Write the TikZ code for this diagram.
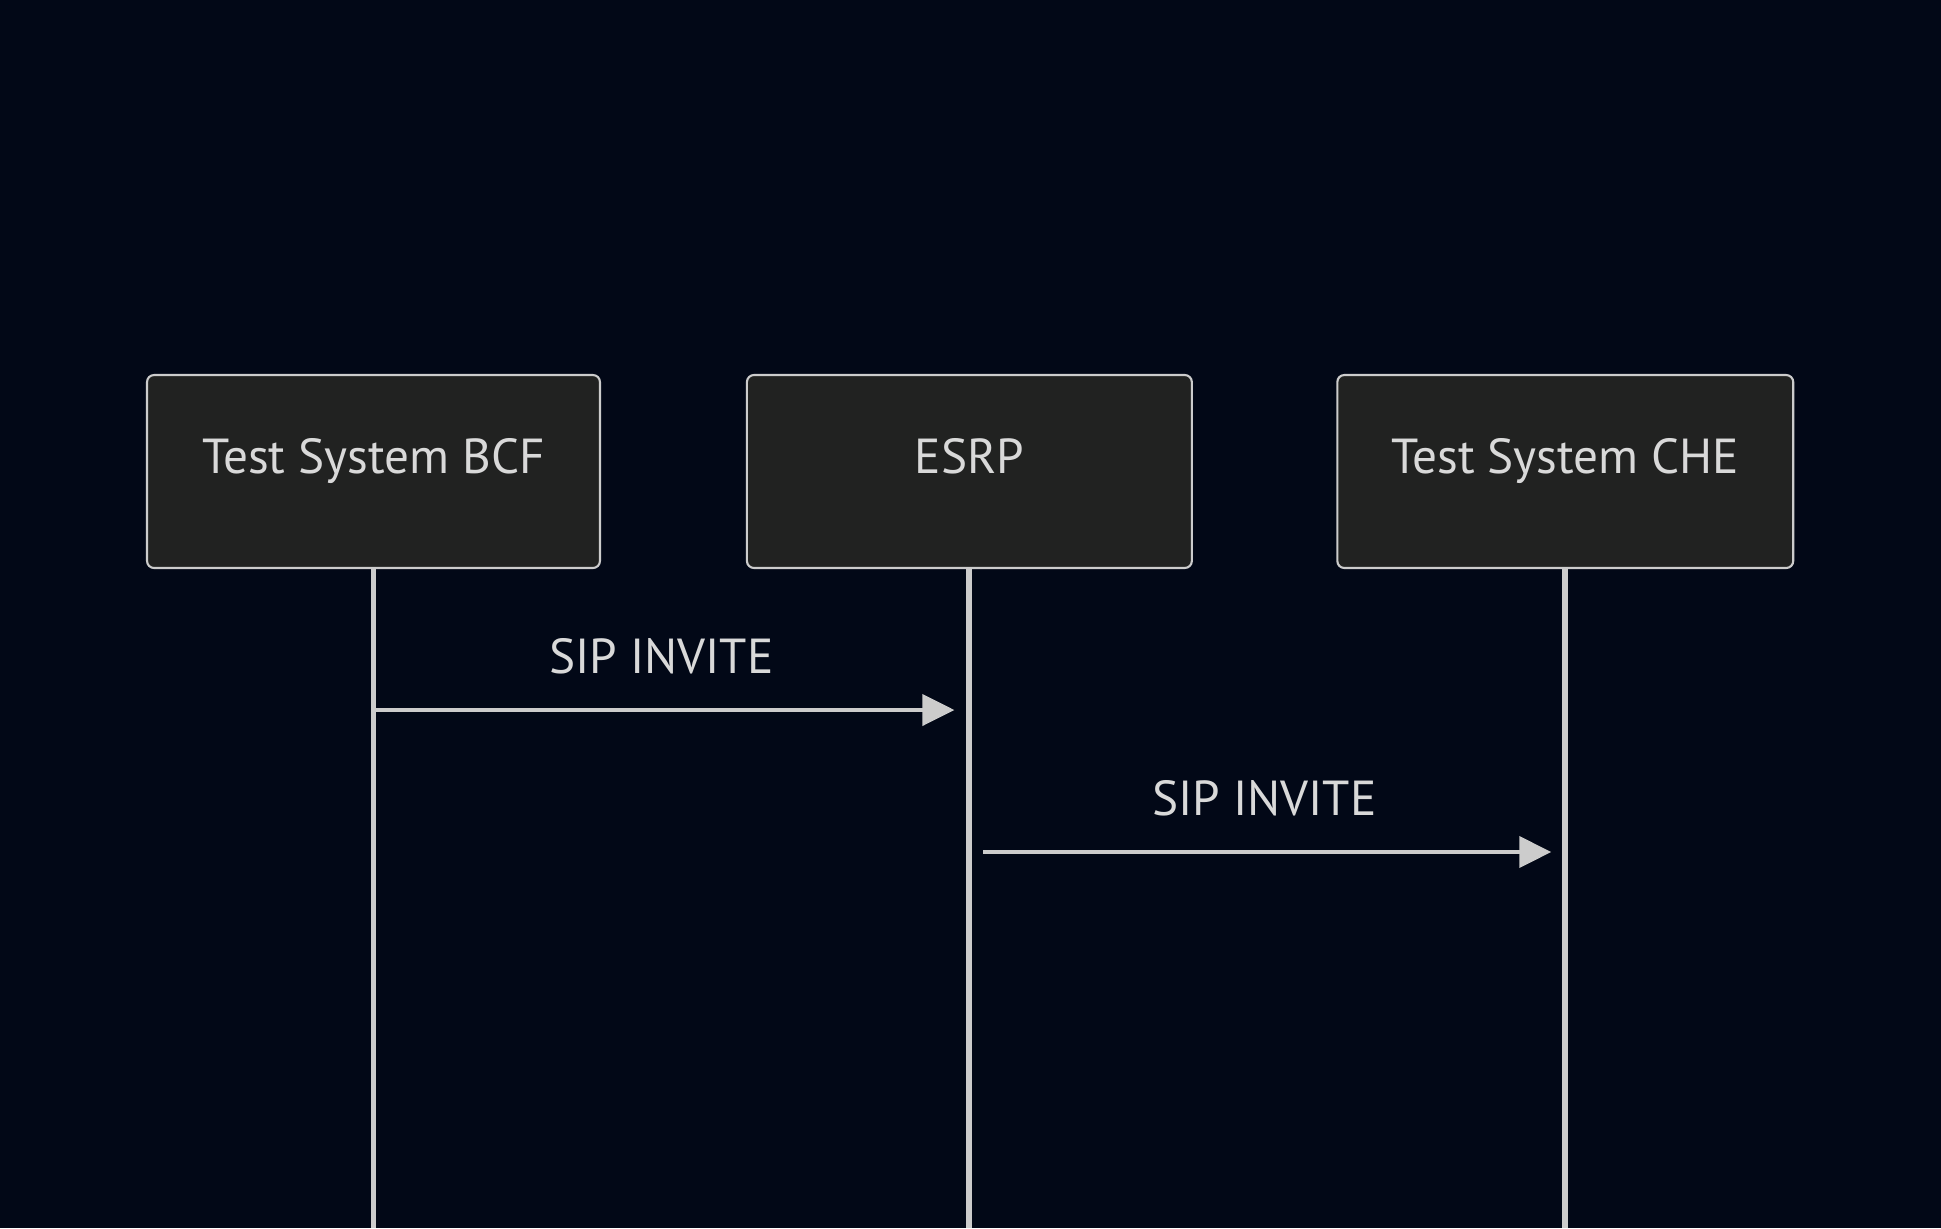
\documentclass[tikz,border=0pt]{standalone}
\usepackage{fontspec}
\setmainfont{PT Sans}
\usetikzlibrary{arrows.meta}
\definecolor{bgnavy}{RGB}{2,8,23}
\definecolor{boxfill}{RGB}{33,34,33}
\definecolor{linegray}{RGB}{204,204,204}
\definecolor{textgray}{RGB}{217,217,217}

\begin{document}
\begin{tikzpicture}[x=0.02cm,y=-0.02cm,>={Triangle[length=0.64cm,width=0.62cm]},node distance=11.92cm,
  every node/.style={font=\fontsize{28}{34}\selectfont,text=textgray},
  actor/.style={draw=linegray,fill=boxfill,line width=1.2pt,rounded corners=0.14cm,minimum width=9.06cm,minimum height=3.86cm,text height=0.7cm,text depth=0.64cm,inner sep=0pt},
  life/.style={draw=linegray,line width=3.4pt},
  msg/.style={->,draw=linegray,line width=2.3pt}]
  \fill[bgnavy] (0,0) rectangle (1941,1228);
  \useasboundingbox (0,0) rectangle (1941,1228);
  \coordinate (bot) at (0,1228);
  \coordinate (y1) at (0,710);
  \coordinate (y2) at (0,852);
  \node[actor] (bcf) at (373.5,471.5) {Test System BCF};
  \node[actor,minimum width=8.9cm] (esrp) [right of=bcf] {ESRP};
  \node[actor,minimum width=9.12cm] (che) [right of=esrp] {Test System CHE};
  \draw[life] (bcf.south) -- (bcf.south |- bot);
  \draw[life] (esrp.south) -- (esrp.south |- bot);
  \draw[life] (che.south) -- (che.south |- bot);
  \draw[msg,shorten >=0.3cm] (bcf.south |- y1) -- node[pos=0.483,anchor=base,yshift=0.74cm] (inv1) {SIP INVITE} (esrp.south |- y1);
  \draw[msg,shorten <=0.28cm,shorten >=0.28cm] (esrp.south |- y2) -- node[pos=0.495,anchor=base,yshift=0.74cm] (inv2) {SIP INVITE} (che.south |- y2);
\end{tikzpicture}
\end{document}
